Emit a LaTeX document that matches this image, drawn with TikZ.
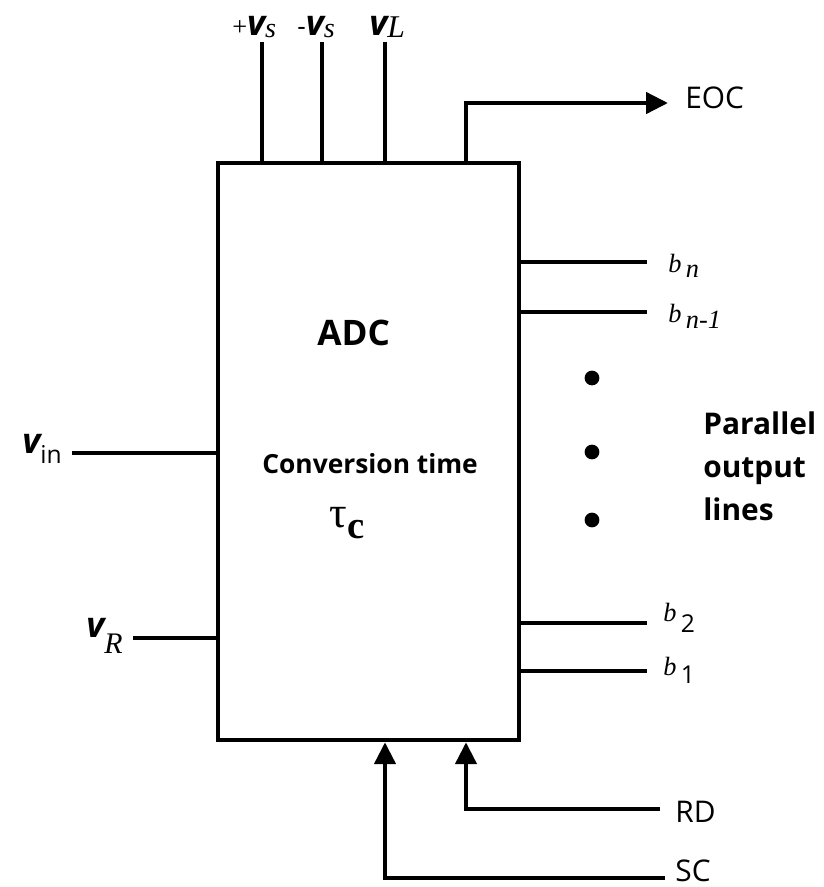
\documentclass[tikz,border=0pt]{standalone}
\usepackage{fontspec}
\setmainfont{Open Sans}
\newfontfamily\tms{Liberation Serif}
\usetikzlibrary{arrows.meta,positioning}
\newlength\pxu
\setlength\pxu{0.02cm}
\newcommand\bv{{\fontsize{20}{22}\selectfont\bfseries\itshape v}}
\newcommand\dn[2]{\raisebox{-#1\pxu}{#2}}

\tikzset{
  wire/.style={line width=2.6pt},
  sig/.style={wire,-{Triangle[length=0.44cm,width=0.42cm]}},
  lbl/.style={anchor=base west,inner sep=0pt},
  blbl/.style={lbl,font=\fontsize{15}{17}\tms\itshape},
  ctl/.style={lbl,font=\fontsize{17}{20}\selectfont},
}

\begin{document}
\begin{tikzpicture}[x=0.02cm,y=-0.02cm]
    \useasboundingbox (0,0) rectangle (824,887);
    \node[draw,wire,minimum width=6.02cm,minimum height=11.54cm,inner sep=0pt] (adc) at (368.5,451.5) {};

    % text inside the converter
    \node[lbl,font=\fontsize{20}{24}\selectfont\bfseries] (title) at (317,345) {ADC};
    \node[lbl,font=\fontsize{15}{17}\selectfont\bfseries] (conv) at (262,473) {Conversion time};
    \node[lbl,font=\fontsize{25}{28}\tms] (tau) at (329,527) {τ\dn{11}{\fontsize{22}{24}\selectfont\bfseries c}};

    % supply pins
    \coordinate (vsp) at (262,42);
    \coordinate (vsm) at (322,42);
    \coordinate (vl) at (385,42);
    \draw[wire] (vsp) -- (vsp |- adc.north);
    \draw[wire] (vsm) -- (vsm |- adc.north);
    \draw[wire] (vl) -- (vl |- adc.north);
    \node[lbl] (lvsp) at (232,35) {{\fontsize{15}{17}\tms +}\bv\dn{2}{\fontsize{16}{18}\tms\itshape s}};
    \node[lbl] (lvsm) at (297,35) {{\fontsize{15}{17}\selectfont -}\bv\dn{2}{\fontsize{16}{18}\tms\itshape s}};
    \node[lbl] (lvl) at (369,35) {\bv\dn{2}{\fontsize{18}{20}\tms\itshape L}};

    % end of conversion
    \coordinate (eocx) at (466,103);
    \coordinate (eoc) at (668,103);
    \draw[sig] (eocx |- adc.north) -- (eocx) -- (eoc);
    \node[ctl] (leoc) at (685,108) {EOC};

    % analog inputs
    \coordinate (vin) at (72,453);
    \coordinate (vr) at (133,638);
    \draw[wire] (vin) -- (vin -| adc.west);
    \draw[wire] (vr) -- (vr -| adc.west);
    \node[lbl] (lvin) at (22,453) {\bv\dn{10}{\fontsize{14}{16}\selectfont in}};
    \node[lbl] (lvr) at (86,637) {\bv\dn{16}{\fontsize{17}{19}\tms\itshape R}};

    % output bits
    \coordinate (bn) at (647,262);
    \coordinate (bnm) at (647,312);
    \coordinate (btwo) at (647,623);
    \coordinate (bone) at (647,671);
    \draw[wire] (bn -| adc.east) -- (bn);
    \draw[wire] (bnm -| adc.east) -- (bnm);
    \draw[wire] (btwo -| adc.east) -- (btwo);
    \draw[wire] (bone -| adc.east) -- (bone);
    \node[blbl] (lbn) at (668,272) {b\,\dn{5}{n}};
    \node[blbl] (lbnm) at (668,322) {b\,\dn{6}{n-1}};
    \node[blbl] (lbtwo) at (663,621) {b\,\dn{11}{\fontsize{14}{16}\rmfamily\upshape 2}};
    \node[blbl] (lbone) at (663,675) {b\,\dn{8}{\fontsize{14}{16}\rmfamily\upshape 1}};

    \fill (592,378) circle (4.2pt);
    \fill (592,452) circle (4.2pt);
    \fill (592,520) circle (4.2pt);
    \node[lbl,align=left,font=\fontsize{17}{24.2}\selectfont\bfseries] (par) at (703,520) {Parallel\\output\\lines};

    % control inputs
    \coordinate (rd) at (660,809);
    \coordinate (sc) at (665,878);
    \draw[sig] (rd) -| (eocx |- adc.south);
    \draw[sig] (sc) -| (vl |- adc.south);
    \node[ctl] (lrd) at (675,822) {RD};
    \node[ctl] (lsc) at (675,881) {SC};
\end{tikzpicture}
\end{document}
